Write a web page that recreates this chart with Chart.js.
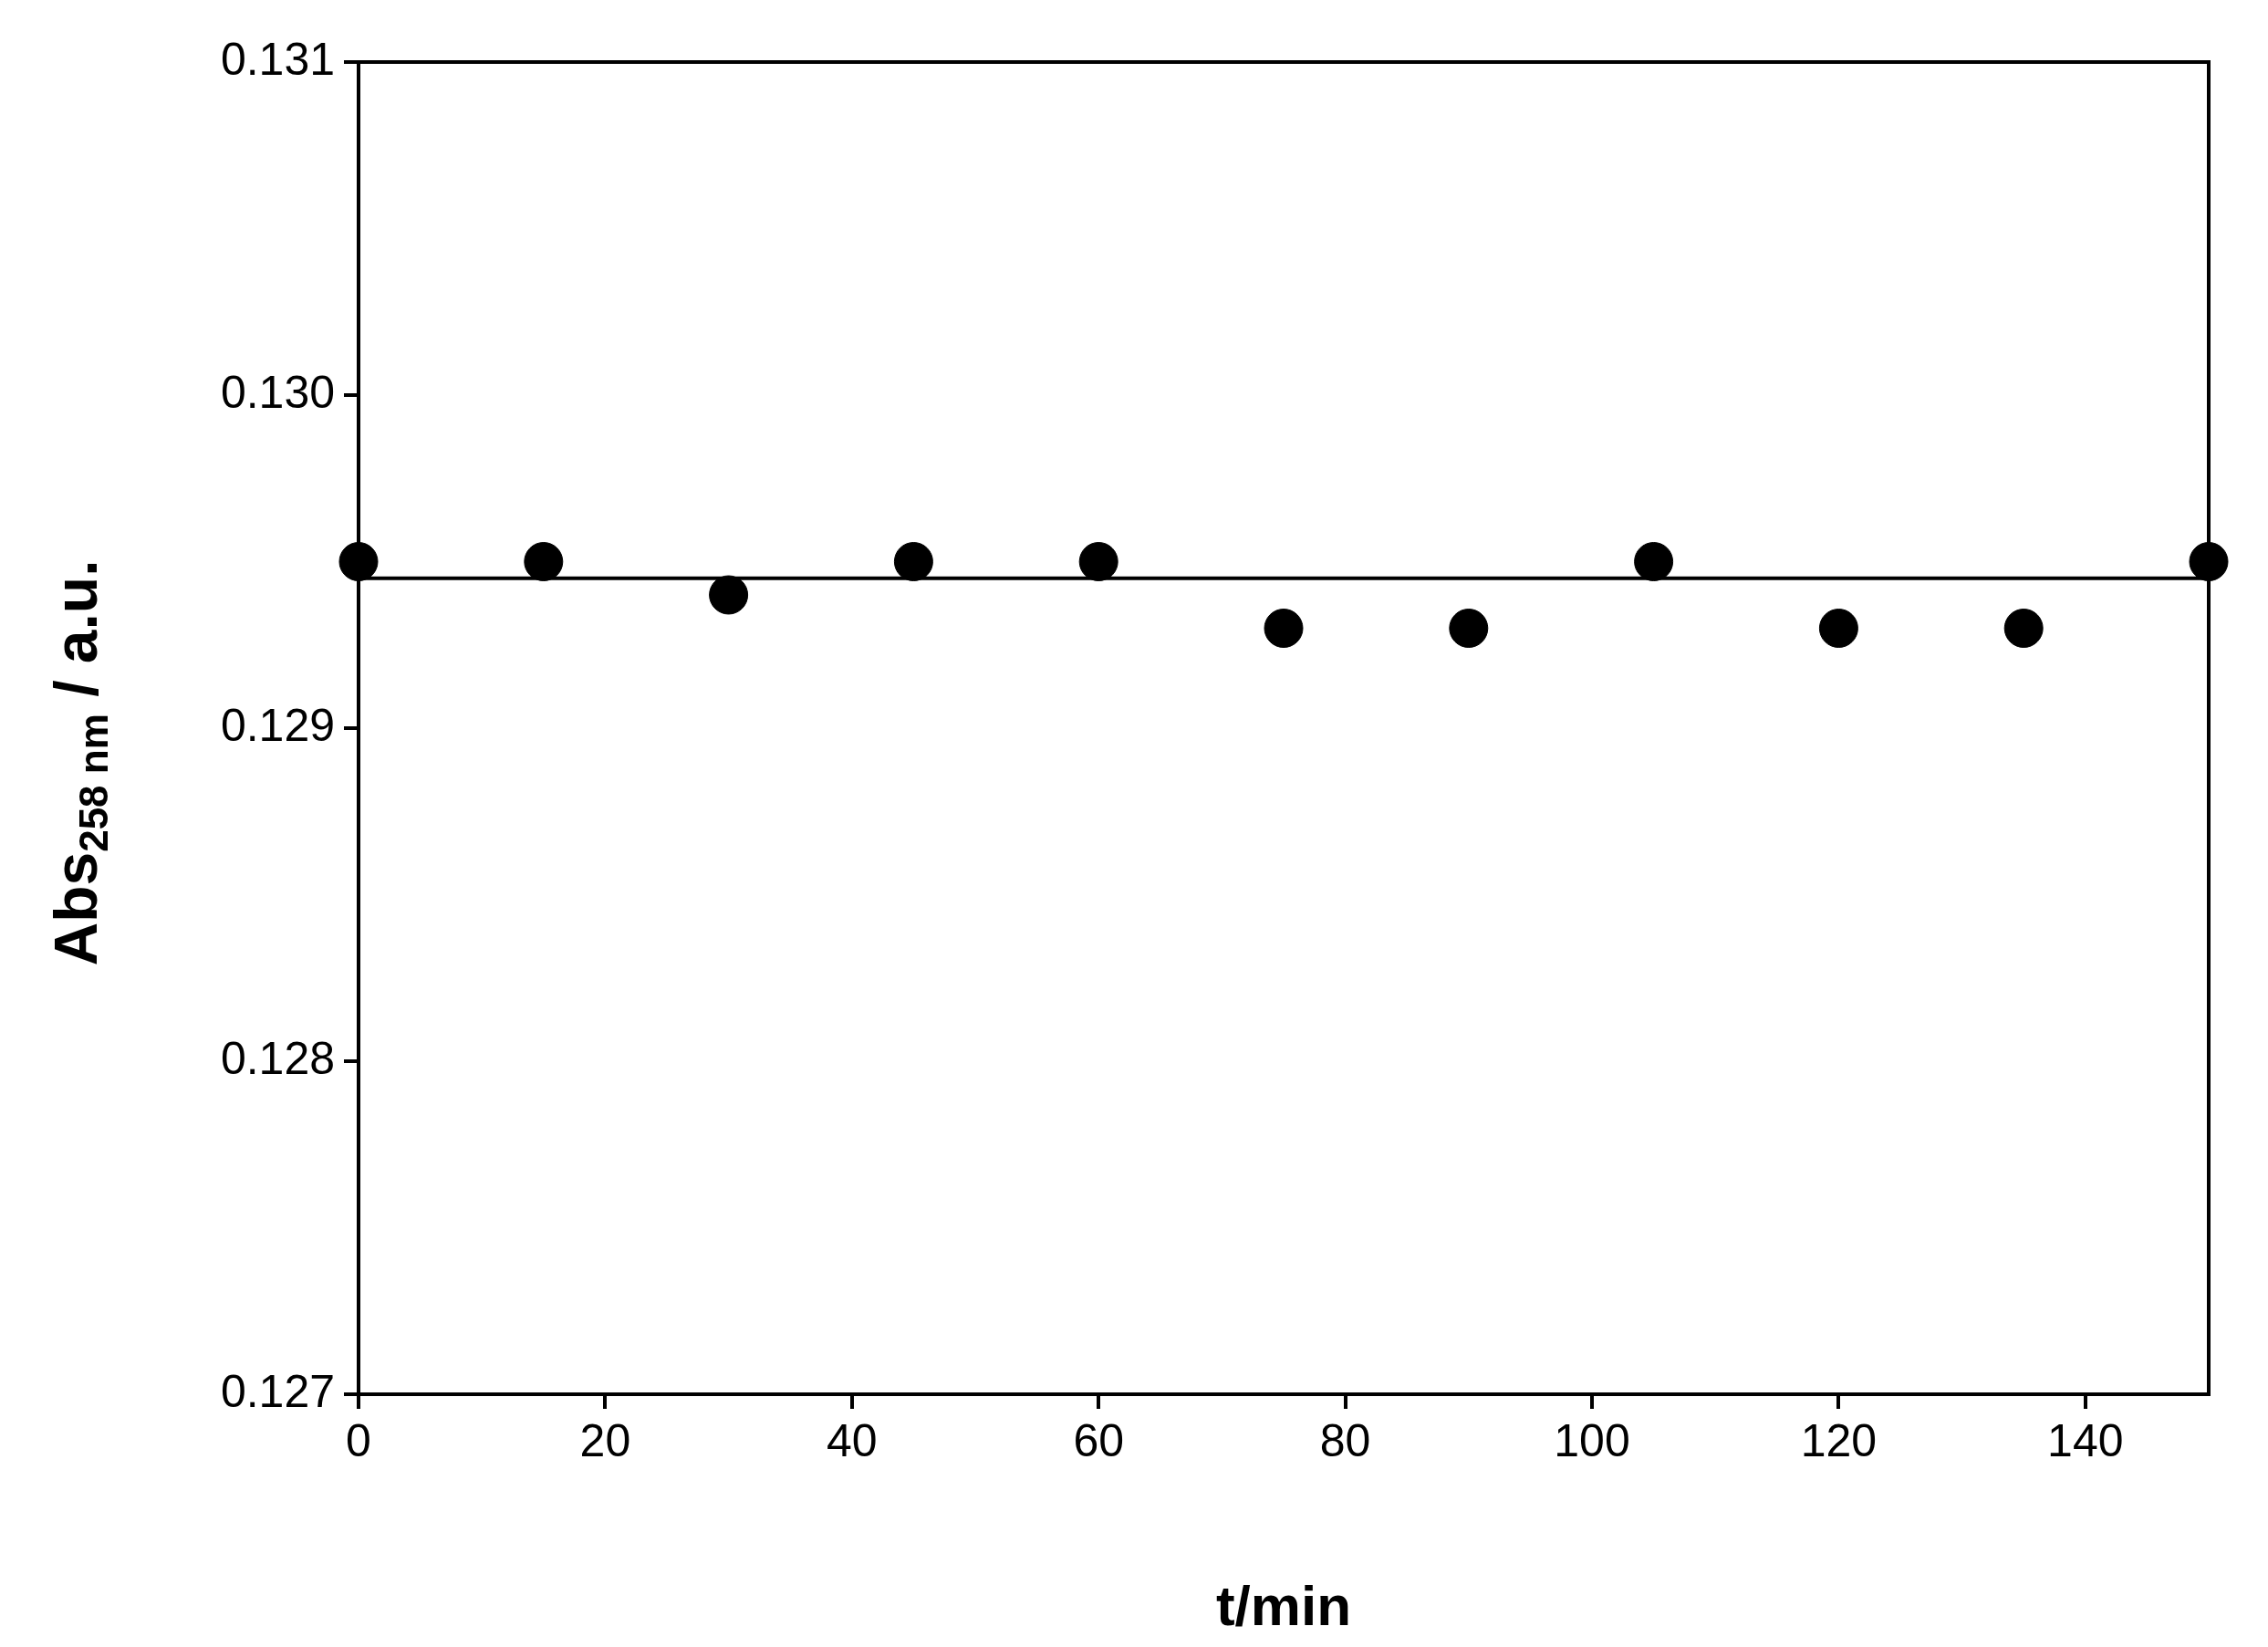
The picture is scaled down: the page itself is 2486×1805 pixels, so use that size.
<!DOCTYPE html>
<html>
<head>
<meta charset="utf-8">
<script src="https://cdn.jsdelivr.net/npm/chart.js@4/dist/chart.umd.min.js"></script>
<style>
  html, body { margin: 0; padding: 0; background: #fff; }
  #wrap { width: 2486px; height: 1805px; }
</style>
</head>
<body>
<div id="wrap"><canvas id="c" width="2486" height="1805"></canvas></div>
<script>
// data
const times = [0, 15, 30, 45, 60, 75, 90, 105, 120, 135, 150];
const absValues = [0.12950, 0.12950, 0.12940, 0.12950, 0.12950, 0.12930, 0.12930, 0.12950, 0.12930, 0.12930, 0.12950];
const meanLevel = 0.12945;
const xTicks = [0, 20, 40, 60, 80, 100, 120, 140];
const yTicks = [0.127, 0.128, 0.129, 0.130, 0.131];

const FONT = 'Liberation Sans, Arial, sans-serif';

// frame on top and right + y title with subscript
const extras = {
  id: 'extras',
  afterDraw(chart) {
    const ctx = chart.ctx, a = chart.chartArea;
    ctx.save();
    ctx.strokeStyle = '#000';
    ctx.lineWidth = 4;
    ctx.beginPath();
    ctx.moveTo(a.left, a.top); ctx.lineTo(a.right, a.top); ctx.lineTo(a.right, a.bottom);
    ctx.stroke();

    ctx.translate(88, (a.top + a.bottom) / 2 + 38);
    ctx.rotate(-Math.PI / 2);
    ctx.fillStyle = '#000';
    ctx.textBaseline = 'middle';
    const big = 'bold 66px ' + FONT, small = 'bold 44px ' + FONT;
    const parts = [['Abs', big, 0], ['258 nm', small, 18], [' / a.u.', big, 0]];
    let w = 0;
    parts.forEach(p => { ctx.font = p[1]; w += ctx.measureText(p[0]).width; });
    let x = -w / 2;
    parts.forEach(p => { ctx.font = p[1]; ctx.fillText(p[0], x, p[2]); x += ctx.measureText(p[0]).width; });
    ctx.restore();
  }
};

new Chart(document.getElementById('c'), {
  type: 'scatter',
  data: {
    datasets: [
      {
        data: times.map((t, i) => ({ x: t, y: absValues[i] })),
        pointRadius: 21, pointHoverRadius: 21,
        backgroundColor: '#000', borderColor: '#000',
        showLine: false, clip: false, order: 1
      },
      {
        data: [{ x: 0, y: meanLevel }, { x: 150, y: meanLevel }],
        showLine: true, pointRadius: 0, borderColor: '#000', borderWidth: 4, order: 2
      }
    ]
  },
  options: {
    responsive: false, animation: false,
    layout: { padding: { top: 68, right: 65 } },
    plugins: { legend: { display: false }, tooltip: { enabled: false } },
    scales: {
      x: {
        type: 'linear', min: 0, max: 150,
        afterBuildTicks: s => { s.ticks = xTicks.map(v => ({ value: v })); },
        afterFit: s => { s.height = 277; },
        grid: { drawOnChartArea: false, tickLength: 16, color: '#000', lineWidth: 4 },
        border: { color: '#000', width: 4 },
        ticks: { color: '#000', font: { family: FONT, size: 50 }, padding: 8 },
        title: { display: true, text: 't/min', color: '#000', font: { family: FONT, size: 62, weight: 'bold' }, padding: { top: 0 } }
      },
      y: {
        type: 'linear', min: 0.127, max: 0.131,
        afterBuildTicks: s => { s.ticks = yTicks.map(v => ({ value: v })); },
        afterFit: s => { s.width = 393; },
        grid: { drawOnChartArea: false, tickLength: 16, color: '#000', lineWidth: 4 },
        border: { color: '#000', width: 4 },
        ticks: { color: '#000', font: { family: FONT, size: 50 }, padding: 10, callback: v => v.toFixed(3) }
      }
    }
  },
  plugins: [extras]
});
</script>
</body>
</html>
